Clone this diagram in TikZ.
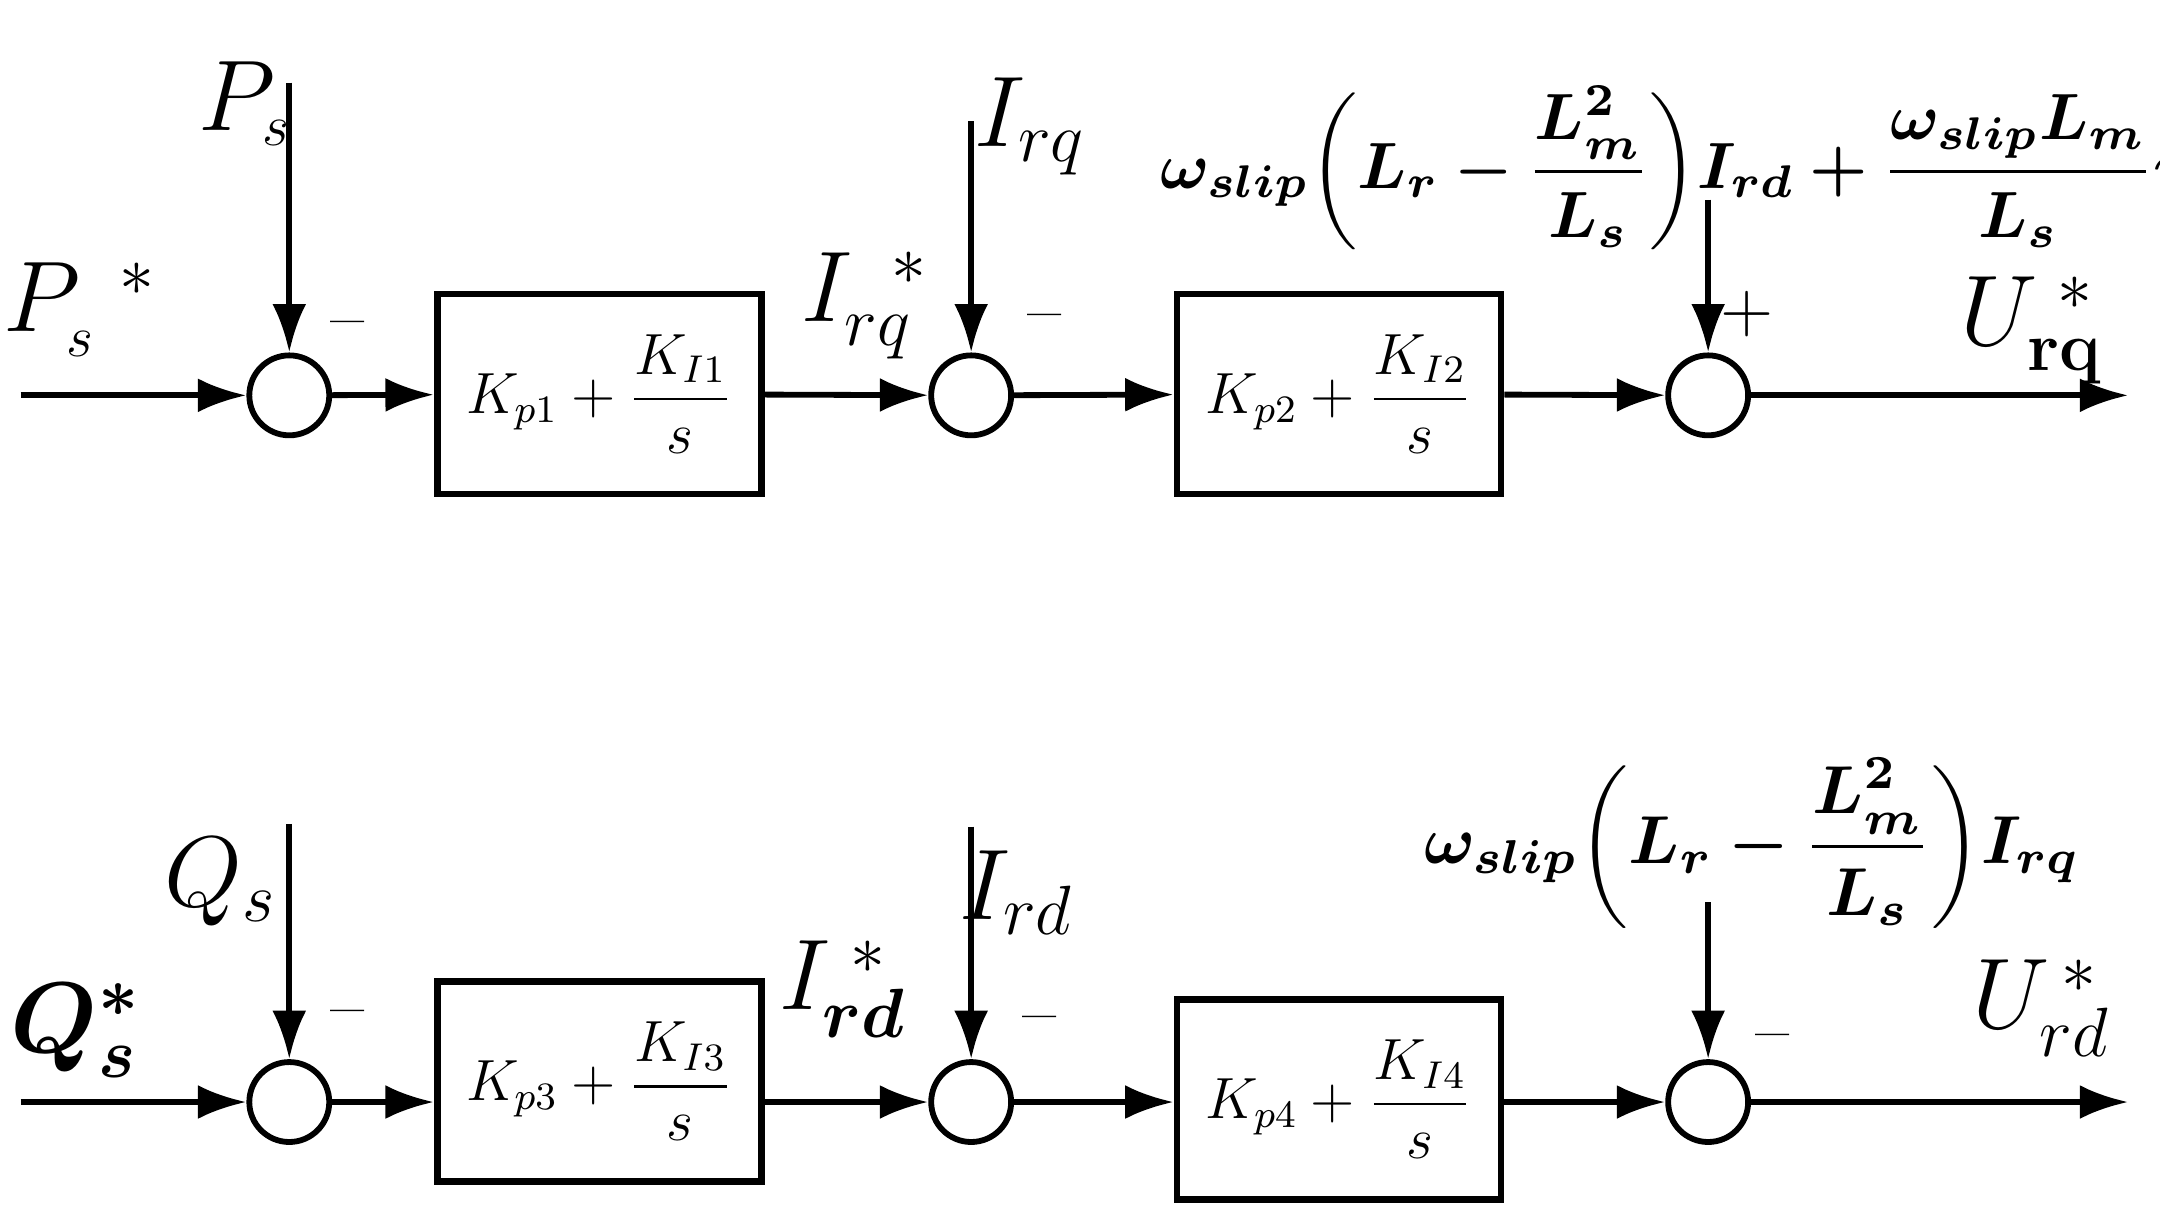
\documentclass[tikz,border=0pt]{standalone}
\usepackage{amsmath,bm}
\usetikzlibrary{arrows.meta}
\begin{document}
\begin{tikzpicture}[x=0.01cm,y=-0.01cm,
  sum/.style={circle,draw,line width=1.2pt,minimum size=0.58cm,inner sep=0},
  blk/.style={draw,line width=1.4pt,minimum width=2.35cm,minimum height=1.45cm,inner sep=0,font=\large},
  ar/.style={line width=1.2pt,-{Latex[length=10pt,width=7pt]}},
  lb/.style={font=\huge},
  sg/.style={font=\Large}]
\useasboundingbox (0,0) rectangle (1568,885);
% top row
\coordinate (in1) at (15,287);
\node[sum] (s1) at (210,287) {};
\node[blk] (b1) at (435,286) {$K_{p1}+\dfrac{K_{I1}}{s}$};
\node[sum] (s2) at (705,287) {};
\node[blk] (b2) at (972,286) {$K_{p2}+\dfrac{K_{I2}}{s}$};
\node[sum] (s3) at (1240,287) {};
\coordinate (out1) at (1545,287);
\coordinate (ps) at (210,60);
\coordinate (irq) at (705,88);
\coordinate (ff1) at (1240,145);
\draw[ar] (in1) -- (s1);
\draw[ar] (s1) -- (b1);
\draw[ar] (b1) -- (s2);
\draw[ar] (s2) -- (b2);
\draw[ar] (b2) -- (s3);
\draw[ar] (s3) -- (out1);
\draw[ar] (ps) -- (s1);
\draw[ar] (irq) -- (s2);
\draw[ar] (ff1) -- (s3);
\node[lb] at (178,75) {$P_{\scriptscriptstyle s}$};
\node[lb] at (58,225) {$P_{\scriptscriptstyle s}^{\;\;*}$};
\node[sg] at (252,240) {--};
\node[lb] at (628,222) {$I_{rq}^{\;\;*}$};
\node[lb] at (748,92) {$I_{rq}$};
\node[sg] at (758,235) {--};
\node[sg] at (1268,228) {+};
\node[lb] at (1475,240) {$U_{\mathbf{rq}}^{\;*}$};
\node[font=\normalsize,scale=1.35] at (1232,122) {$\boldsymbol{\omega_{slip}\!\left(L_r-\dfrac{L_m^2}{L_s}\right)\!I_{rd}+\dfrac{\omega_{slip}L_m}{L_s}\psi_s}$};
% bottom row
\coordinate (in2) at (15,800);
\node[sum] (t1) at (210,800) {};
\node[blk] (c1) at (435,785) {$K_{p3}+\dfrac{K_{I3}}{s}$};
\node[sum] (t2) at (705,800) {};
\node[blk] (c2) at (972,798) {$K_{p4}+\dfrac{K_{I4}}{s}$};
\node[sum] (t3) at (1240,800) {};
\coordinate (out2) at (1545,800);
\coordinate (qs) at (210,598);
\coordinate (ird) at (705,600);
\coordinate (ff2) at (1240,655);
\draw[ar] (in2) -- (t1);
\draw[ar] (t1) -- (t1 -| c1.west);
\draw[ar] (t1 -| c1.east) -- (t2);
\draw[ar] (t2) -- (t2 -| c2.west);
\draw[ar] (t2 -| c2.east) -- (t3);
\draw[ar] (t3) -- (out2);
\draw[ar] (qs) -- (t1);
\draw[ar] (ird) -- (t2);
\draw[ar] (ff2) -- (t3);
\node[lb] at (160,640) {$Q_s$};
\node[lb] at (55,748) {$\boldsymbol{Q_s^*}$};
\node[sg] at (252,740) {--};
\node[lb] at (612,718) {$I_{\boldsymbol{rd}}^{\;*}$};
\node[lb] at (738,648) {$I_{rd}$};
\node[sg] at (755,745) {--};
\node[sg] at (1287,758) {--};
\node[lb] at (1482,732) {$U_{rd}^{\,*}$};
\node[font=\normalsize,scale=1.4] at (1272,612) {$\boldsymbol{\omega_{slip}\!\left(L_r-\dfrac{L_m^2}{L_s}\right)\!I_{rq}}$};
\end{tikzpicture}
\end{document}
